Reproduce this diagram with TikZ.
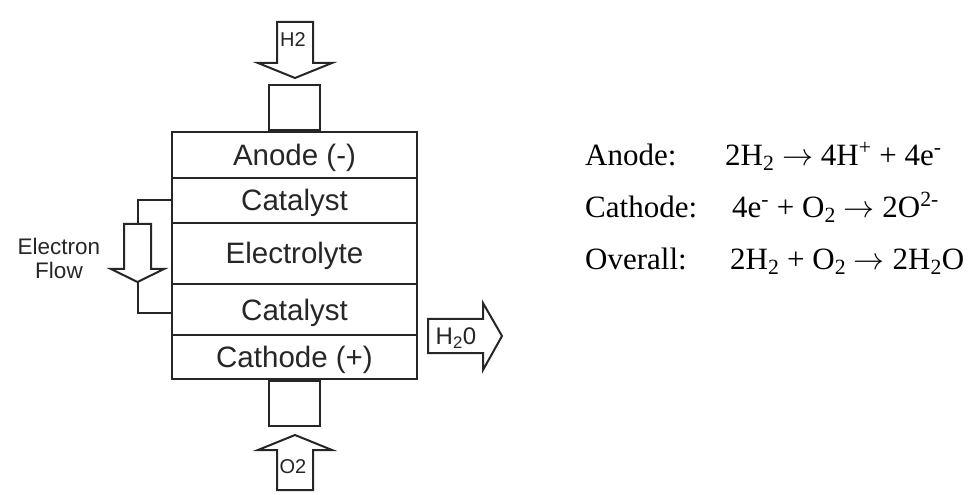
\RequirePackage{fix-cm}
\documentclass[tikz,border=0pt]{standalone}
\usepackage{fontspec}
\setmainfont{Liberation Serif}
\setsansfont{Liberation Sans}
\newcommand{\rarr}{\ensuremath{\rightarrow}}
\begin{document}
\begin{tikzpicture}[x=1bp,y=-1bp,line join=miter]
\useasboundingbox (0,0) rectangle (970,495);
\tikzset{
 ln/.style={line width=2bp, draw=black!85},
 layer/.style={ln, draw, rectangle, minimum width=245bp, inner sep=0pt,
   font=\sffamily\fontsize{29.5bp}{34bp}\selectfont, text height=21bp, text depth=0bp, text=black!85},
 stub/.style={ln, draw, rectangle, minimum width=51bp, minimum height=45bp, inner sep=0pt},
 blk/.style={ln, fill=white},
 gaslbl/.style={font=\sffamily\fontsize{20bp}{24bp}\selectfont, inner sep=0pt, text=black!85},
 eq/.style={anchor=base west, inner sep=0pt, font=\fontsize{31bp}{36bp}\selectfont},
}
% cell stack
\node[layer, minimum height=46bp] (anode) at (294.5,155) {Anode (-)};
\node[layer, minimum height=45bp] (cat1) at (294.5,200.5) {Catalyst};
\node[layer, minimum height=61bp] (elec) at (294.5,253.5) {Electrolyte};
\node[layer, minimum height=51bp] (cat2) at (294.5,309.5) {Catalyst};
\node[layer, minimum height=44bp] (cath) at (294.5,357) {Cathode (+)};
\node[stub, anchor=south] (topstub) at (anode.north) {};
\node[stub, anchor=north] (botstub) at (cath.south) {};
% H2 in
\draw[blk] (277,22) -- (313,22) -- (313,63) -- (332,63) -- (295,78) -- (258,63) -- (277,63) -- cycle;
\node[gaslbl] (h2) at (293,40) {H2};
% O2 in
\draw[blk] (277,490) -- (313,490) -- (313,450) -- (332,450) -- (295,435) -- (258,450) -- (277,450) -- cycle;
\node[gaslbl] (o2) at (293,467) {O2};
% electron flow
\draw[blk] (124,224) -- (151,224) -- (151,269) -- (164,269) -- (137.5,282) -- (111,269) -- (124,269) -- cycle;
\coordinate (eaTop) at (137.5,224);
\coordinate (eaTip) at (137.5,282);
\coordinate (eaLow) at (137.5,313);
\draw[ln] (cat1.west) -| (eaTop);
\draw[ln] (eaTip) -- (eaLow) -- (eaLow -| cat2.west);
\node[font=\sffamily\fontsize{22.5bp}{24bp}\selectfont, align=center, text=black!85, inner sep=0pt] (eflow) at (59,258) {Electron\\Flow};
% H2O out
\draw[blk] (428,319) -- (483,319) -- (483,303) -- (502,336) -- (483,370) -- (483,353) -- (428,353) -- cycle;
\node[font=\sffamily\fontsize{24bp}{28bp}\selectfont, inner sep=0pt, text height=17bp, text depth=0pt, text=black!85] (h2o) at (456,336) {H\textsubscript{2}0};
% equations
\node[eq] (l1) at (585,166) {Anode:};
\node[eq] (e1) at (725,166) {2H\textsubscript{2} \rarr{} 4H\textsuperscript{+} + 4e\textsuperscript{-}};
\node[eq] (l2) at (585,218) {Cathode:};
\node[eq] (e2) at (732,218) {4e\textsuperscript{-} + O\textsubscript{2} \rarr{} 2O\textsuperscript{2-}};
\node[eq] (l3) at (585,270) {Overall:};
\node[eq] (e3) at (730,270) {2H\textsubscript{2} + O\textsubscript{2} \rarr{} 2H\textsubscript{2}O};
\end{tikzpicture}
\end{document}
